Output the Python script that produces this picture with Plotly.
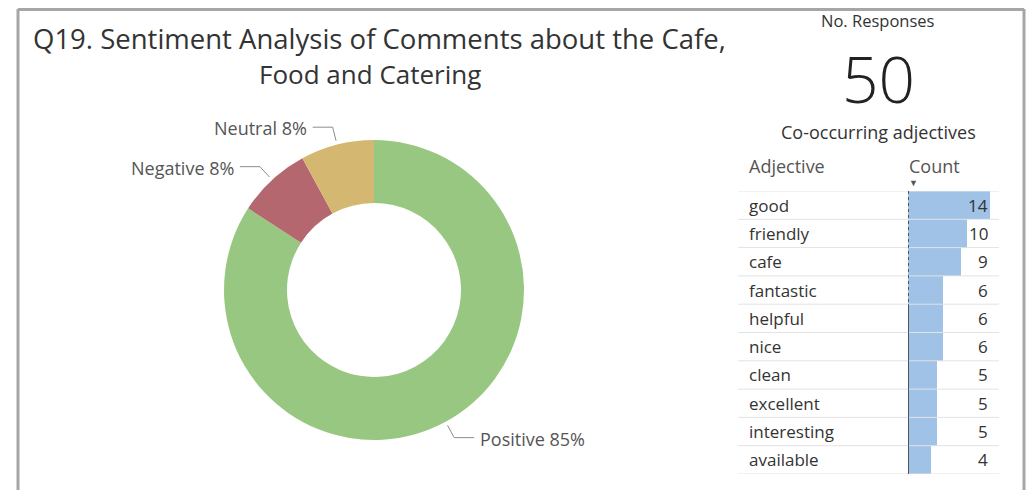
import math
import plotly.graph_objects as go

# Sentiment shares (percent of comments)
sentiments = ["Positive", "Negative", "Neutral"]
sentiment_pct = [85, 8, 8]
sentiment_colors = ["#98c781", "#b5676f", "#d4b771"]

# Co-occurring adjectives table
adjectives = ["good", "friendly", "cafe", "fantastic", "helpful",
              "nice", "clean", "excellent", "interesting", "available"]
adjective_counts = [14, 10, 9, 6, 6, 6, 5, 5, 5, 4]

n_responses = 50

W, H = 1036, 490
FONT = "Open Sans"
TEXT = "#333333"


def px(x):
    return x / W


def py(y):
    return 1 - y / H


fig = go.Figure()

# ---- donut ----
cx, cy, r = 374, 290, 150
fig.add_trace(go.Pie(
    labels=sentiments, values=sentiment_pct,
    marker=dict(colors=sentiment_colors, line=dict(width=0)),
    hole=0.58, sort=False, direction="clockwise", rotation=0,
    textinfo="none", hoverinfo="label+percent", showlegend=False,
    domain=dict(x=[px(cx - r), px(cx + r)], y=[py(cy + r), py(cy - r)]),
))

shapes = []
annotations = []

# leader lines and labels placed at each slice's mid-angle
total = sum(sentiment_pct)
start = 0.0
for name, val in zip(sentiments, sentiment_pct):
    span = val / total * 360
    mid = math.radians(start + span / 2)
    start += span
    dx, dy = math.sin(mid), -math.cos(mid)
    side = 1 if dx >= 0 else -1
    x1, y1 = cx + (r + 4) * dx, cy + (r + 4) * dy
    x2, y2 = cx + (r + 18) * dx, cy + (r + 18) * dy
    x3 = x2 + side * 20
    shapes.append(dict(
        type="path", xref="paper", yref="paper",
        path=f"M {px(x1)} {py(y1)} L {px(x2)} {py(y2)} L {px(x3)} {py(y2)}",
        line=dict(color="#8c8c8c", width=1),
    ))
    annotations.append(dict(
        x=px(x3 + side * 4), y=py(y2 + 1), xref="paper", yref="paper",
        text=f"{name} {val}%", showarrow=False,
        xanchor="left" if side > 0 else "right", yanchor="middle",
        font=dict(family=FONT, size=18, color="#555555"),
    ))

# ---- adjective bars ----
row_top, row_bot = 191, 474
bar_x0, bar_x1 = 908, 990
fig.add_trace(go.Bar(
    x=adjective_counts, y=adjectives, orientation="h",
    marker=dict(color="#9fc2e6", line=dict(width=0)),
    width=1.0, xaxis="x2", yaxis="y2", showlegend=False,
    hoverinfo="y+x",
))

for i, (adj, cnt) in enumerate(zip(adjectives, adjective_counts)):
    annotations.append(dict(
        x=px(747), y=adj, xref="paper", yref="y2",
        text=adj, showarrow=False, xanchor="left", yanchor="middle",
        font=dict(family=FONT, size=17, color=TEXT),
    ))
    annotations.append(dict(
        x=max(adjective_counts), y=adj, xref="x2", yref="y2",
        text=str(cnt), showarrow=False, xanchor="right", yanchor="middle",
        font=dict(family=FONT, size=17, color=TEXT),
    ))
    # row separator below each row
    shapes.append(dict(
        type="line", xref="paper", yref="y2",
        x0=px(738), x1=px(999), y0=i + 0.5, y1=i + 0.5,
        line=dict(color="#e3e3e3", width=1),
    ))

# header rule
shapes.append(dict(
    type="line", xref="paper", yref="y2",
    x0=px(738), x1=px(999), y0=-0.5, y1=-0.5,
    line=dict(color="#e3e3e3", width=1),
))
# bar baseline: dotted for the first rows, solid below
shapes.append(dict(
    type="line", xref="x2", yref="y2", x0=0, x1=0, y0=-0.5, y1=3.5,
    line=dict(color="#333333", width=1.5, dash="dot"),
))
shapes.append(dict(
    type="line", xref="x2", yref="y2", x0=0, x1=0, y0=3.5, y1=9.5,
    line=dict(color="#333333", width=1.5),
))

# ---- panel frame ----
frame = dict(color="#a6a6a6", width=3)
shapes += [
    dict(type="line", xref="paper", yref="paper", x0=px(18), x1=px(18),
         y0=py(9), y1=py(495), line=frame),
    dict(type="line", xref="paper", yref="paper", x0=px(18), x1=px(1024),
         y0=py(9.5), y1=py(9.5), line=frame),
    dict(type="line", xref="paper", yref="paper", x0=px(1024), x1=px(1024),
         y0=py(9), y1=py(495), line=frame),
]

# ---- titles and header texts ----
annotations += [
    dict(x=px(379), y=py(38), text="Q19. Sentiment Analysis of Comments about the Cafe,",
         font=dict(family=FONT, size=27.5, color=TEXT)),
    dict(x=px(370), y=py(74), text="Food and Catering",
         font=dict(family=FONT, size=26, color=TEXT)),
    dict(x=px(878), y=py(21), text="No. Responses",
         font=dict(family=FONT, size=16.5, color=TEXT)),
    dict(x=px(878), y=py(78), text=str(n_responses),
         font=dict(family=FONT, size=64, color="#222222", weight=300)),
    dict(x=px(878), y=py(132), text="Co-occurring adjectives",
         font=dict(family=FONT, size=18, color=TEXT)),
    dict(x=px(747), y=py(166), text="Adjective", xanchor="left",
         font=dict(family=FONT, size=18, color="#555555")),
    dict(x=px(907), y=py(166), text="Count", xanchor="left",
         font=dict(family=FONT, size=18, color="#555555")),
    dict(x=px(913), y=py(182), text="▼", xanchor="center",
         font=dict(family=FONT, size=9, color="#555555")),
]
for a in annotations:
    a.setdefault("xref", "paper")
    a.setdefault("yref", "paper")
    a.setdefault("showarrow", False)
    a.setdefault("xanchor", "center")
    a.setdefault("yanchor", "middle")

fig.update_layout(
    width=W, height=H,
    margin=dict(l=0, r=0, t=0, b=0),
    paper_bgcolor="white", plot_bgcolor="white",
    xaxis2=dict(domain=[px(bar_x0), px(bar_x1)], range=[0, max(adjective_counts)],
                visible=False, anchor="y2", fixedrange=True),
    yaxis2=dict(domain=[py(row_bot), py(row_top)], type="category",
                categoryorder="array", categoryarray=adjectives,
                range=[len(adjectives) - 0.5, -0.5], visible=False,
                anchor="x2", fixedrange=True),
    xaxis=dict(visible=False), yaxis=dict(visible=False),
    bargap=0,
    shapes=shapes,
    annotations=annotations,
    font=dict(family=FONT),
)

fig.write_html("out.html")
